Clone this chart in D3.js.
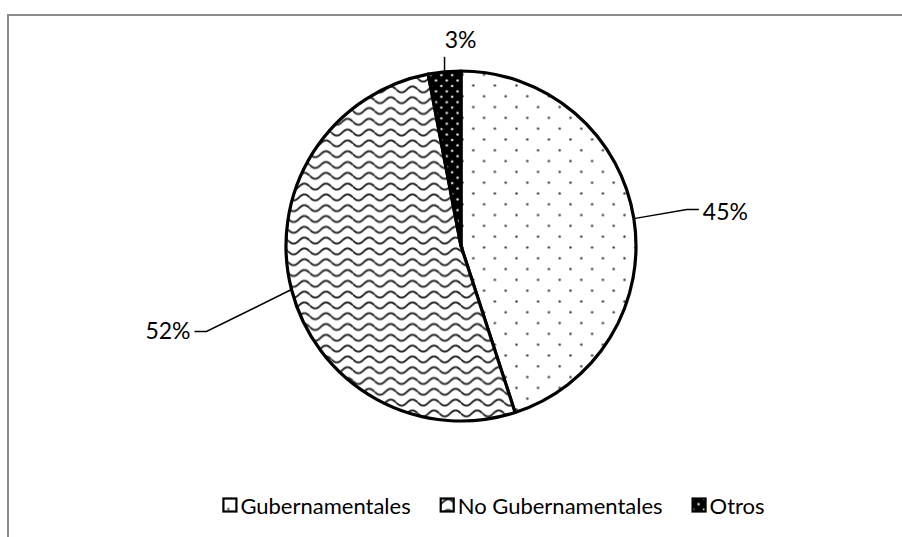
<!DOCTYPE html>
<html><head><meta charset="utf-8">
<script src="https://cdn.jsdelivr.net/npm/d3@7"></script>
<style>
html,body{margin:0;padding:0;background:#fff;}
svg{display:block;}
text{font-family:Lato,"Open Sans",sans-serif;fill:#000;}
</style></head>
<body><svg id="c" width="902" height="537"></svg>
<script>
const categories = ["Gubernamentales", "No Gubernamentales", "Otros"];
const values = [45, 52, 3];
const valueLabels = ["45%", "52%", "3%"];

const W = 902, H = 537;
const cx = 461, cy = 246, R = 175;
const svg = d3.select("#c");
const defs = svg.append("defs");

// patterns
const s = 2.7;
// dotted (Gubernamentales)
const p1 = defs.append("pattern").attr("id","pGub").attr("patternUnits","userSpaceOnUse")
  .attr("width", 8*s).attr("height", 8*s);
p1.append("rect").attr("width",8*s).attr("height",8*s).attr("fill","#fff");
p1.append("circle").attr("cx",1.5).attr("cy",1.5).attr("r",1.25).attr("fill","#444");
p1.append("circle").attr("cx",1.5+4*s).attr("cy",1.5+4*s).attr("r",1.25).attr("fill","#444");
// wave (No Gubernamentales)
const ww = 8*s, wh = 4*s;
const p2 = defs.append("pattern").attr("id","pNo").attr("patternUnits","userSpaceOnUse")
  .attr("width", ww).attr("height", wh);
p2.append("rect").attr("width",ww).attr("height",wh).attr("fill","#fff");
const wavePts = d3.range(0, 41).map(i => [i/40*ww, wh/2 + 3*Math.sin(i/40*2*Math.PI)]);
p2.append("path").attr("d", d3.line()(wavePts)).attr("fill","none").attr("stroke","#2a2a2a").attr("stroke-width",2);
// black with white dots (Otros)
const p3 = defs.append("pattern").attr("id","pOt").attr("patternUnits","userSpaceOnUse")
  .attr("width", 4*s).attr("height", 4*s);
p3.append("rect").attr("width",4*s).attr("height",4*s).attr("fill","#000");
p3.append("circle").attr("cx",2).attr("cy",2).attr("r",1.3).attr("fill","#ddd");
p3.append("circle").attr("cx",2+2*s).attr("cy",2+2*s).attr("r",1.3).attr("fill","#ddd");
const fills = ["url(#pGub)","url(#pNo)","url(#pOt)"];

// frame
svg.append("rect").attr("x",8).attr("y",15).attr("width",2000).attr("height",2000)
  .attr("fill","none").attr("stroke","#8c8c8c").attr("stroke-width",2);

const pie = d3.pie().sort(null).value(d => d)(values);
const arc = d3.arc().innerRadius(0).outerRadius(R);
const g = svg.append("g").attr("transform",`translate(${cx},${cy})`);
g.selectAll("path.slice").data(pie).join("path").attr("class","slice")
  .attr("d", arc).attr("fill",(d,i)=>fills[i])
  .attr("stroke","#000").attr("stroke-width",3.2).attr("stroke-linejoin","round");

// labels with leader lines (offsets relative to slice edge point)
const leader = [
  {elbow:[53,-9], end:[65,-9], text:[69,-8], anchor:"start"},
  {elbow:[-85,42], end:[-97,42], text:[-101,40], anchor:"end"},
  {elbow:null, end:[0,-15], text:[16,-33], anchor:"middle"}
];
pie.forEach((d,i) => {
  const m = (d.startAngle + d.endAngle)/2;
  const p0 = [R*Math.sin(m), -R*Math.cos(m)];
  const L = leader[i];
  const pts = [p0];
  if (L.elbow) pts.push([p0[0]+L.elbow[0], p0[1]+L.elbow[1]]);
  pts.push([p0[0]+L.end[0], p0[1]+L.end[1]]);
  g.append("path").attr("d", d3.line()(pts)).attr("fill","none").attr("stroke","#000").attr("stroke-width",1.5);
  g.append("text").attr("x", p0[0]+L.text[0]).attr("y", p0[1]+L.text[1])
    .attr("text-anchor", L.anchor).attr("dominant-baseline","central")
    .attr("font-size", 23).text(valueLabels[i]);
});

// legend
const legY = 505, box = 13, gapBT = 4, gapE = 30, legCenter = 494, fs = 22;
const leg = svg.append("g");
const items = categories.map((c,i) => {
  const t = leg.append("text").attr("font-size",fs).attr("dominant-baseline","central").attr("y",legY).text(c);
  return {t, w: t.node().getComputedTextLength(), i};
});
const total = d3.sum(items, d => box + gapBT + d.w) + gapE*(items.length-1);
let x = legCenter - total/2;
items.forEach(d => {
  leg.append("rect").attr("x", x).attr("y", legY - box/2).attr("width", box).attr("height", box)
    .attr("fill", fills[d.i]).attr("stroke","#000").attr("stroke-width",2.2);
  d.t.attr("x", x + box + gapBT);
  x += box + gapBT + d.w + gapE;
});
</script></body></html>
